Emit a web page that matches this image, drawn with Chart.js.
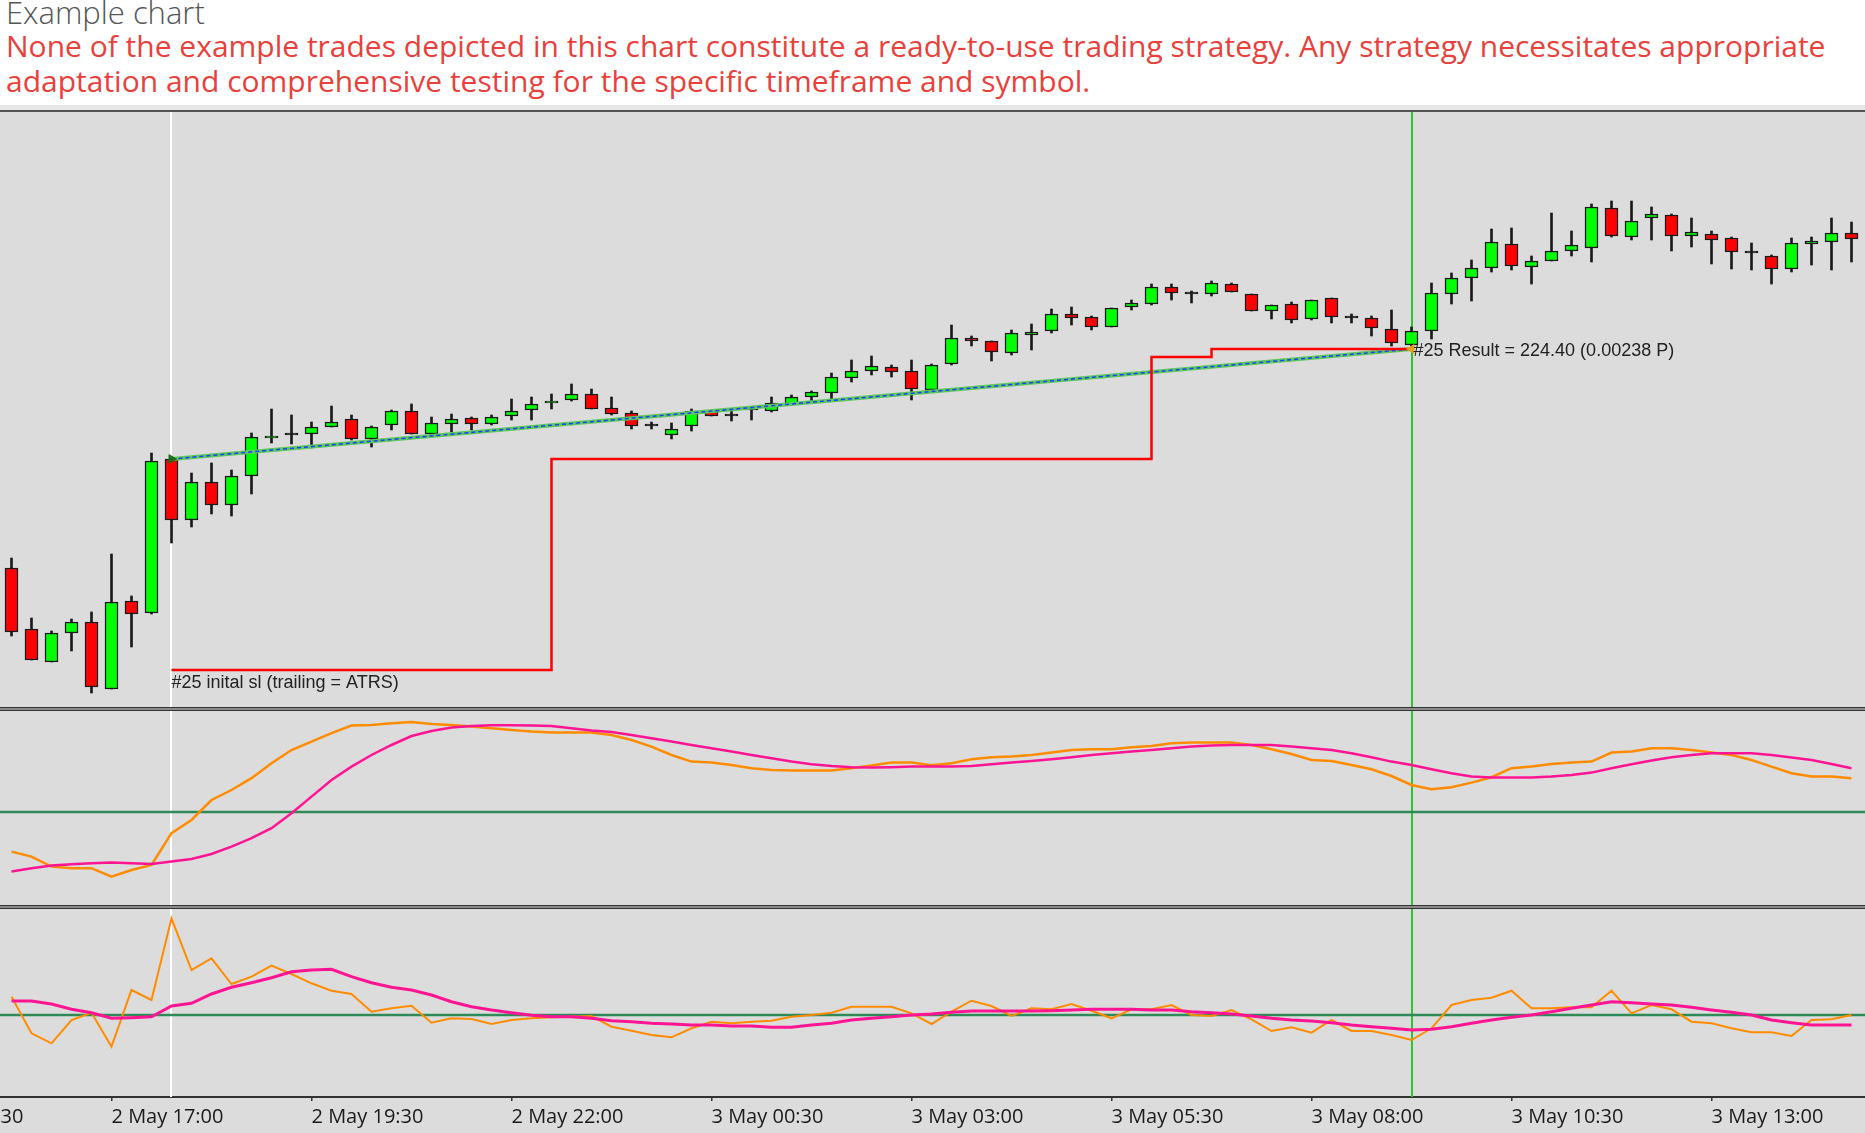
<!DOCTYPE html>
<html>
<head>
<meta charset="utf-8">
<title>Example chart</title>
<script src="https://cdn.jsdelivr.net/npm/chart.js@4.4.1/dist/chart.umd.min.js"></script>
<style>
  html, body { margin: 0; padding: 0; background: #fff; }
  body { width: 1865px; height: 1133px; position: relative; overflow: hidden; font-family: 'Open Sans', sans-serif; }
  #title { position: absolute; left: 6px; top: -6px; font-size: 31px; line-height: 36px; color: #555; font-weight: 300; white-space: nowrap; }
  #note { position: absolute; left: 6px; top: 28px; font-size: 30px; line-height: 35px; color: #e8413c; white-space: nowrap; }
  #band { position: absolute; left: 0; top: 105px; width: 1865px; height: 5px; background: #e6e6e6; }
  #topline { position: absolute; left: 0; top: 110px; width: 1865px; height: 2px; background: #555; }
  .sep { position: absolute; left: 0; width: 1865px; height: 2px; background: #8c8c8c; border-top: 1px solid #333; border-bottom: 1px solid #333; }
  canvas { position: absolute; left: 0; background: #dcdcdc; }
</style>
</head>
<body>
<div id="title">Example chart</div>
<div id="note">None of the example trades depicted in this chart constitute a ready-to-use trading strategy. Any strategy necessitates appropriate<br>adaptation and comprehensive testing for the specific timeframe and symbol.</div>
<div id="band"></div>
<div id="topline"></div>
<canvas id="priceChart" width="1865" height="595" style="top:112px"></canvas>
<div class="sep" style="top:707px"></div>
<canvas id="osc1Chart" width="1865" height="194" style="top:711px"></canvas>
<div class="sep" style="top:905px"></div>
<canvas id="osc2Chart" width="1865" height="224" style="top:909px"></canvas>

<script>
// M15 bars, bar 0 = 2 May 15:45
const opens = [1.08432,1.08371,1.08338,1.08367,1.08378,1.08311,1.08399,1.08387,1.08541,1.08480,
  1.08518,1.08495,1.08524,1.08562,1.08565,1.08566,1.08573,1.08581,1.08561,1.08575,
  1.08589,1.08566,1.08576,1.08582,1.08576,1.08584,1.08590,1.08597,1.08600,1.08606,
  1.08592,1.08587,1.08574,1.08565,1.08574,1.08589,1.08584,1.08590,1.08589,1.08596,
  1.08603,1.08607,1.08622,1.08629,1.08633,1.08629,1.08610,1.08636,1.08662,1.08659,
  1.08647,1.08665,1.08669,1.08686,1.08683,1.08673,1.08693,1.08696,1.08713,1.08706,
  1.08706,1.08716,1.08706,1.08689,1.08696,1.08681,1.08702,1.08682,1.08682,1.08671,
  1.08655,1.08669,1.08706,1.08722,1.08732,1.08756,1.08733,1.08739,1.08749,1.08752,
  1.08792,1.08763,1.08782,1.08785,1.08764,1.08766,1.08762,1.08747,1.08744,1.08731,
  1.08756,1.08758,1.08767];
const highs = [1.08442,1.08382,1.08369,1.08381,1.08388,1.08446,1.08404,1.08547,1.08542,1.08527,
  1.08537,1.08530,1.08567,1.08591,1.08585,1.08578,1.08594,1.08585,1.08574,1.08590,
  1.08596,1.08583,1.08586,1.08583,1.08585,1.08601,1.08603,1.08606,1.08616,1.08611,
  1.08603,1.08589,1.08578,1.08577,1.08591,1.08590,1.08589,1.08591,1.08603,1.08605,
  1.08609,1.08627,1.08640,1.08644,1.08635,1.08640,1.08636,1.08675,1.08664,1.08659,
  1.08670,1.08676,1.08691,1.08693,1.08684,1.08692,1.08700,1.08716,1.08716,1.08709,
  1.08719,1.08717,1.08706,1.08695,1.08698,1.08700,1.08702,1.08686,1.08684,1.08690,
  1.08673,1.08717,1.08727,1.08740,1.08771,1.08772,1.08744,1.08787,1.08769,1.08796,
  1.08799,1.08799,1.08793,1.08786,1.08782,1.08769,1.08763,1.08757,1.08745,1.08762,
  1.08763,1.08782,1.08778];
const lows = [1.08364,1.08340,1.08338,1.08349,1.08307,1.08311,1.08353,1.08386,1.08457,1.08473,
  1.08486,1.08484,1.08506,1.08557,1.08556,1.08552,1.08573,1.08560,1.08553,1.08570,
  1.08566,1.08564,1.08568,1.08570,1.08575,1.08580,1.08580,1.08591,1.08599,1.08591,
  1.08585,1.08571,1.08571,1.08561,1.08569,1.08584,1.08579,1.08580,1.08588,1.08596,
  1.08598,1.08601,1.08618,1.08625,1.08623,1.08600,1.08608,1.08635,1.08654,1.08639,
  1.08645,1.08650,1.08667,1.08675,1.08670,1.08673,1.08690,1.08695,1.08700,1.08697,
  1.08704,1.08708,1.08689,1.08681,1.08677,1.08680,1.08677,1.08677,1.08664,1.08654,
  1.08653,1.08661,1.08696,1.08699,1.08728,1.08730,1.08716,1.08739,1.08744,1.08738,
  1.08763,1.08760,1.08760,1.08749,1.08753,1.08736,1.08731,1.08730,1.08716,1.08728,
  1.08735,1.08730,1.08738];
const closes = [1.08368,1.08340,1.08367,1.08378,1.08313,1.08398,1.08386,1.08539,1.08480,1.08518,
  1.08495,1.08524,1.08563,1.08564,1.08565,1.08573,1.08578,1.08561,1.08573,1.08589,
  1.08566,1.08577,1.08581,1.08576,1.08583,1.08589,1.08596,1.08599,1.08606,1.08591,
  1.08586,1.08574,1.08574,1.08571,1.08589,1.08584,1.08584,1.08590,1.08597,1.08603,
  1.08608,1.08623,1.08629,1.08634,1.08628,1.08611,1.08635,1.08662,1.08659,1.08648,
  1.08667,1.08668,1.08686,1.08682,1.08673,1.08692,1.08697,1.08713,1.08707,1.08706,
  1.08717,1.08708,1.08689,1.08695,1.08680,1.08700,1.08683,1.08682,1.08672,1.08657,
  1.08669,1.08707,1.08722,1.08732,1.08758,1.08734,1.08739,1.08749,1.08755,1.08793,
  1.08764,1.08779,1.08786,1.08764,1.08768,1.08760,1.08748,1.08747,1.08731,1.08757,
  1.08759,1.08767,1.08761];

// upper oscillator (orange main, magenta signal)
const osc1Main = [30.2,27.7,22.7,21.9,21.9,17.7,21.0,23.5,39.4,46.0,
  56.0,61.0,66.9,74.4,81.0,85.2,89.4,93.2,93.5,94.4,
  95.0,94.0,93.5,92.7,91.9,91.0,90.2,89.7,89.7,89.7,
  88.5,86.0,82.7,78.5,75.2,74.7,73.5,71.9,71.0,70.7,
  70.7,70.7,71.9,73.2,74.7,74.7,73.4,74.4,76.4,77.4,
  77.7,78.5,79.7,81.0,81.4,81.4,82.4,83.0,84.4,84.7,
  84.7,84.7,83.5,81.4,79.0,76.0,75.5,73.5,71.4,68.0,
  63.5,61.4,62.4,64.7,67.4,71.9,72.7,74.0,74.7,75.2,
  79.7,80.2,81.9,81.9,81.0,79.7,78.5,76.0,72.7,69.4,
  67.7,67.7,66.9];
const osc1Signal = [20.2,21.9,23.2,23.9,24.4,24.7,24.4,24.0,25.2,26.5,
  29.0,32.7,36.9,41.9,49.4,57.7,66.0,72.7,78.5,83.5,
  88.0,90.5,92.2,93.0,93.4,93.4,93.2,93.0,91.9,90.7,
  90.0,88.5,86.9,85.2,83.5,81.9,80.2,78.5,76.9,75.2,
  73.9,73.0,72.4,72.2,72.4,72.7,72.7,72.7,73.0,73.9,
  74.7,75.5,76.4,77.4,78.5,79.4,80.2,81.0,81.9,82.7,
  83.2,83.5,83.5,83.5,82.7,81.9,81.0,79.4,77.4,75.2,
  73.5,71.4,69.4,67.7,67.2,67.2,67.2,67.7,68.5,69.7,
  71.9,73.9,75.7,77.4,78.5,79.4,79.4,79.4,78.5,77.2,
  76.0,74.0,71.9];
const osc1Level = 50;

// lower oscillator (orange main, magenta signal)
const osc2Main = [1.83,-1.83,-2.83,-0.5,0.23,-3.17,2.5,1.5,9.67,4.5,
  5.67,3.1,3.83,4.93,4.1,3.17,2.43,2.1,0.33,0.67,
  0.93,-0.77,-0.33,-0.4,-0.9,-0.5,-0.33,-0.23,-0.17,-0.1,
  -1.17,-1.57,-2.0,-2.23,-1.33,-0.67,-0.83,-0.67,-0.57,-0.17,
  0,0.23,0.83,0.83,0.83,0.17,-0.9,0.33,1.43,0.9,
  -0.1,0.67,0.57,1.1,0.43,-0.33,0.57,0.57,1.0,0,
  -0.1,0.5,-0.43,-1.6,-1.23,-1.77,-0.5,-1.6,-1.6,-2.0,
  -2.5,-1.33,1.0,1.5,1.73,2.43,0.67,0.67,0.77,0.77,
  2.43,0.17,1.0,0.57,-0.67,-0.83,-1.33,-1.73,-1.73,-2.1,
  -0.5,-0.43,0];
const osc2Signal = [1.4,1.4,1.1,0.57,0.23,-0.33,-0.27,-0.17,0.9,1.17,
  2.1,2.77,3.23,3.73,4.33,4.5,4.57,3.83,3.23,2.77,
  2.5,2.0,1.33,0.83,0.5,0.23,-0.03,-0.17,-0.17,-0.33,
  -0.57,-0.67,-0.83,-0.9,-1.0,-1.0,-1.1,-1.1,-1.23,-1.23,
  -1.0,-0.83,-0.5,-0.33,-0.17,0,0.1,0.27,0.4,0.4,
  0.4,0.4,0.43,0.5,0.57,0.57,0.57,0.5,0.5,0.33,
  0.23,0.1,-0.1,-0.33,-0.5,-0.6,-0.77,-1.0,-1.17,-1.33,
  -1.5,-1.43,-1.17,-0.83,-0.5,-0.23,0,0.33,0.67,1.0,
  1.33,1.23,1.1,1.0,0.77,0.5,0.27,0,-0.5,-0.77,
  -1.0,-1.0,-1.0];
const osc2Level = 0;

// trade #25
const entryBar = 8, entryPrice = 1.08541;
const exitBar = 70, exitPrice = 1.08651;
const slBars = [8, 27, 57, 60, 70];
const slLevels = [1.08330, 1.08541, 1.08643, 1.08651, 1.08651];
const slText = '#25 inital sl (trailing = ATRS)';
const resultText = '#25 Result = 224.40 (0.00238 P)';

// time axis
const tickBars = [-5, 5, 15, 25, 35, 45, 55, 65, 75, 85];
const tickLabels = ['2 May 14:30', '2 May 17:00', '2 May 19:30', '2 May 22:00', '3 May 00:30',
  '3 May 03:00', '3 May 05:30', '3 May 08:00', '3 May 10:30', '3 May 13:00'];

const bars = opens.map((_, i) => i);
const xMin = -0.575, xMax = 92.675;

const GREEN = '#00ff00', RED = '#ff0000', EDGE = '#1a1a1a';

const hiddenX = { type: 'linear', min: xMin, max: xMax, display: false, bounds: 'data', offset: false };

// white entry line, green exit line across every pane
const tradeVerticals = {
    id: 'tradeVerticals',
    beforeDatasetsDraw(chart) {
        const { ctx, chartArea, scales } = chart;
        ctx.save();
        ctx.lineWidth = 2;
        [[entryBar, '#ffffff'], [exitBar, '#2fc42f']].forEach(([bar, color]) => {
            const px = Math.round(scales.x.getPixelForValue(bar));
            ctx.strokeStyle = color;
            ctx.beginPath();
            ctx.moveTo(px, chartArea.top);
            ctx.lineTo(px, chartArea.bottom);
            ctx.stroke();
        });
        ctx.restore();
    }
};

const tradeLabels = {
    id: 'tradeLabels',
    afterDatasetsDraw(chart) {
        const { ctx, scales: { x, y } } = chart;
        ctx.save();
        ctx.font = '18px "Liberation Sans", Arial, sans-serif';
        ctx.fillStyle = '#222';
        ctx.textBaseline = 'alphabetic';
        ctx.fillText(slText, x.getPixelForValue(slBars[0]), y.getPixelForValue(slLevels[0]) + 18);
        ctx.fillText(resultText, x.getPixelForValue(exitBar) + 2, y.getPixelForValue(exitPrice) + 7);
        ctx.restore();
    }
};

const noUi = { legend: { display: false }, tooltip: { enabled: false } };
const flatLayout = { padding: 0, autoPadding: false };

new Chart(document.getElementById('priceChart'), {
    type: 'bar',
    data: {
        datasets: [
            {
                label: 'wicks',
                data: bars.map(i => ({ x: i, y: [lows[i], highs[i]] })),
                backgroundColor: EDGE,
                barThickness: 2,
                grouped: false,
                order: 6
            },
            {
                label: 'bodies',
                data: bars.map(i => ({ x: i, y: [opens[i], closes[i]] })),
                backgroundColor: ctx => {
                    const i = ctx.dataIndex;
                    return closes[i] > opens[i] ? GREEN : closes[i] < opens[i] ? RED : EDGE;
                },
                borderColor: EDGE,
                borderWidth: 1.5,
                borderSkipped: false,
                barThickness: 13,
                minBarLength: 2,
                grouped: false,
                order: 5
            },
            {
                type: 'line',
                label: 'trade',
                data: [{ x: entryBar, y: entryPrice }, { x: exitBar, y: exitPrice }],
                borderColor: '#5cc85c',
                borderWidth: 4,
                pointRadius: 0,
                order: 4
            },
            {
                type: 'line',
                label: 'trade dash',
                data: [{ x: entryBar, y: entryPrice }, { x: exitBar, y: exitPrice }],
                borderColor: '#1f3dff',
                borderWidth: 1.5,
                borderDash: [4, 3],
                pointRadius: 0,
                order: 3
            },
            {
                type: 'line',
                label: 'stop loss',
                data: slBars.map((b, i) => ({ x: b, y: slLevels[i] })),
                borderColor: '#ff0000',
                borderWidth: 2.5,
                stepped: true,
                pointRadius: 0,
                order: 2
            },
            {
                type: 'scatter',
                label: 'entry',
                data: [{ x: entryBar, y: entryPrice }],
                pointStyle: 'triangle',
                rotation: 90,
                radius: 5,
                backgroundColor: '#1d6b1d',
                borderColor: '#1d6b1d',
                order: 1
            },
            {
                type: 'scatter',
                label: 'exit',
                data: [{ x: exitBar, y: exitPrice }],
                pointStyle: 'triangle',
                rotation: -90,
                radius: 5,
                backgroundColor: '#e3a21a',
                borderColor: '#e3a21a',
                order: 0
            }
        ]
    },
    options: {
        responsive: false,
        devicePixelRatio: 1,
        animation: false,
        events: [],
        layout: flatLayout,
        plugins: noUi,
        scales: {
            x: hiddenX,
            y: { type: 'linear', min: 1.08293, max: 1.08888, display: false }
        }
    },
    plugins: [tradeVerticals, tradeLabels]
});

function oscDataset(label, values, color, width) {
    return {
        label,
        data: bars.map(i => ({ x: i, y: values[i] })),
        borderColor: color,
        borderWidth: width,
        pointRadius: 0,
        tension: 0
    };
}

function levelDataset(level) {
    return {
        label: 'level',
        data: [{ x: xMin, y: level }, { x: xMax, y: level }],
        borderColor: '#2e8b57',
        borderWidth: 2.5,
        pointRadius: 0,
        order: 5
    };
}

new Chart(document.getElementById('osc1Chart'), {
    type: 'line',
    data: {
        datasets: [
            levelDataset(osc1Level),
            oscDataset('signal', osc1Signal, '#ff1493', 2.5),
            oscDataset('main', osc1Main, '#ff8c00', 2.5)
        ]
    },
    options: {
        responsive: false,
        devicePixelRatio: 1,
        animation: false,
        events: [],
        layout: flatLayout,
        plugins: noUi,
        scales: {
            x: hiddenX,
            y: { type: 'linear', min: 3.5, max: 100.5, display: false }
        }
    },
    plugins: [tradeVerticals]
});

new Chart(document.getElementById('osc2Chart'), {
    type: 'line',
    data: {
        datasets: [
            levelDataset(osc2Level),
            oscDataset('signal', osc2Signal, '#ff1493', 3),
            oscDataset('main', osc2Main, '#ff8c00', 2)
        ]
    },
    options: {
        responsive: false,
        devicePixelRatio: 1,
        animation: false,
        events: [],
        layout: flatLayout,
        plugins: noUi,
        scales: {
            x: {
                type: 'linear',
                min: xMin,
                max: xMax,
                bounds: 'data',
                offset: false,
                afterBuildTicks: scale => { scale.ticks = tickBars.map(v => ({ value: v })); },
                afterFit: scale => { scale.height = 36; scale.paddingLeft = 0; scale.paddingRight = 0; },
                ticks: {
                    autoSkip: false,
                    maxRotation: 0,
                    align: 'start',
                    padding: 4,
                    color: '#1a1a1a',
                    font: { family: "'Open Sans'", size: 20 },
                    callback: (v, i) => tickLabels[i]
                },
                grid: { drawOnChartArea: false, drawTicks: true, tickLength: 4, color: '#333', lineWidth: 1.5 },
                border: { display: true, color: '#333', width: 2 }
            },
            y: { type: 'linear', min: -8.2, max: 10.6, display: false }
        }
    },
    plugins: [tradeVerticals]
});
</script>
</body>
</html>
